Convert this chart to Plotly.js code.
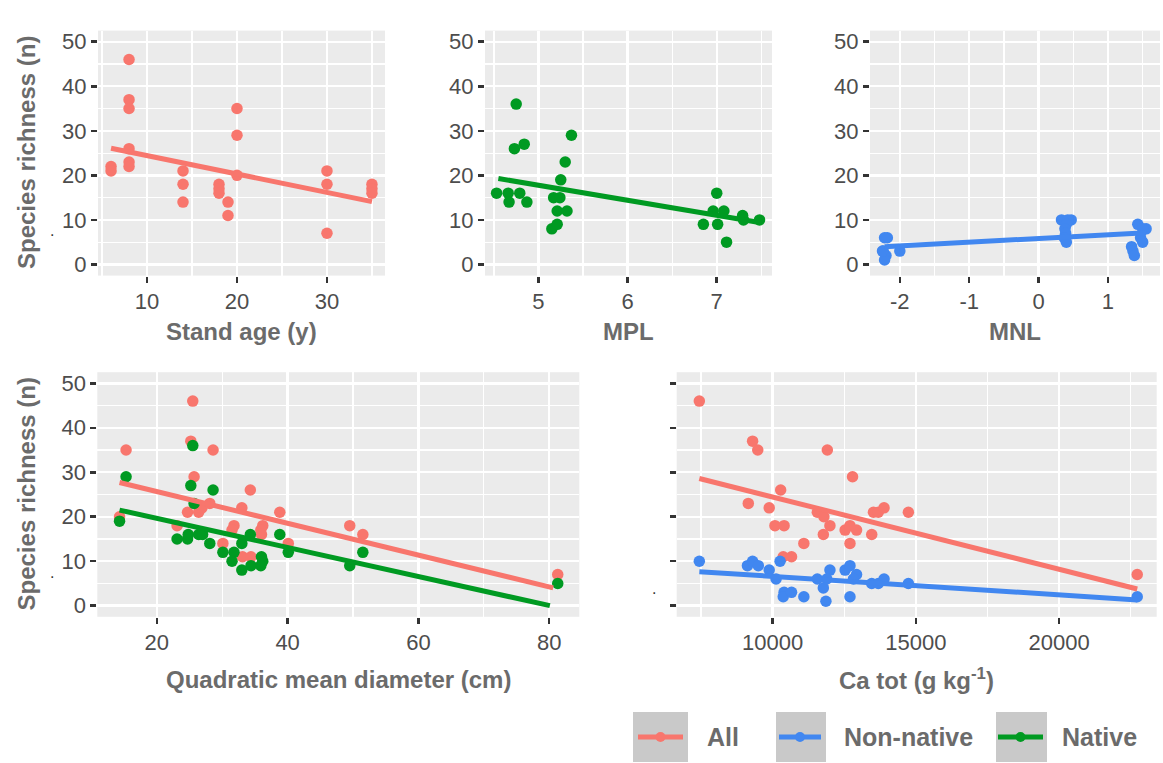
<!DOCTYPE html>
<html>
<head>
<meta charset="utf-8">
<script src="https://cdn.plot.ly/plotly-3.0.1.min.js"></script>
<style>html,body{margin:0;padding:0;background:#fff;}#chart{width:1163px;height:763px;}</style>
</head>
<body>
<div id="chart"></div>
<script>
// ---------------- DATA ----------------
// Panel 1: Stand age (y) vs species richness, All species
const standAge = [6,6,8,8,8,8,8,8,14,14,14,18,18,18,19,19,20,20,20,30,30,30,35,35,35];
const standAgeAll = [22,21,46,37,35,26,23,22,21,18,14,18,17,16,14,11,35,29,20,21,18,7,18,17,16];
const standAgeFitX = [6, 35];
const standAgeFitAll = [26.1, 14.1];

// Panel 2: MPL vs species richness, Native species
const mpl = [4.53,4.66,4.67,4.79,4.87,4.75,4.73,4.84,5.37,5.30,5.25,5.17,5.24,5.21,5.32,5.15,5.21,7.00,6.96,7.08,6.85,7.01,7.11,7.29,7.30,7.48];
const mplNative = [16,16,14,16,14,36,26,27,29,23,19,15,15,12,12,8,9,16,12,12,9,9,5,11,10,10];
const mplFitX = [4.55, 7.48];
const mplFitNative = [19.3, 9.4];

// Panel 3: MNL vs species richness, Non-native species
const mnl = [-2.18,-2.22,-2.24,-2.20,-2.22,-2.00,-2.25,0.33,0.47,0.42,0.40,0.38,0.39,0.37,0.40,1.43,1.55,1.50,1.47,1.50,1.34,1.36,1.38];
const mnlNonNative = [6,6,3,2,1,3,3,10,10,10,9,8,7,6,5,9,8,8,6,5,4,3,2];
const mnlFitX = [-2.22, 1.55];
const mnlFitNonNative = [4.0, 7.1];
const mnlTickVals = [-2,-1,0,1];
const mnlTickText = ['-2','-1','0','1'];

// Panel 4: Quadratic mean diameter (cm)
const qmdAllX = [25.5,15.3,25.2,28.6,25.7,34.3,14.3,24.7,26.4,26.9,28.1,33.0,38.8,23.1,31.8,31.5,36.2,35.9,36.0,30.1,40.1,33.1,34.4,49.5,51.5,81.3];
const qmdAll = [46,35,37,35,29,26,20,21,21,22,23,22,21,18,18,17,18,17,16,14,14,11,11,18,16,7];
const qmdNativeX = [25.5,15.3,25.2,28.6,25.7,14.3,23.1,24.7,24.8,26.4,27.0,28.1,30.1,31.8,33.0,34.3,31.5,33.0,34.4,36.0,36.2,35.9,38.8,40.1,49.5,51.5,81.3];
const qmdNative = [36,29,27,26,23,19,15,15,16,16,16,14,12,12,14,16,10,8,9,11,10,9,16,12,9,12,5];
const qmdFitAllX = [14.3, 80.6];
const qmdFitAll = [27.7, 4.0];
const qmdFitNativeX = [14.3, 80.1];
const qmdFitNative = [21.5, 0.0];

// Panel 5: Ca tot (g kg-1)
const caAllX = [7440,9300,9480,11910,12790,10280,9150,9880,11560,11790,13520,13690,13890,14740,10080,10400,12000,11770,12530,12700,12930,13460,12700,11090,10370,10660,22730];
const caAll = [46,37,35,35,29,26,23,22,21,20,21,21,22,21,18,18,18,16,17,18,17,16,14,14,11,11,7];
const caNonNativeX = [7440,9120,9300,9500,9880,10120,10260,10400,10370,10660,11090,11560,11770,11860,12000,11890,12530,12700,12700,12930,12820,13460,13690,13890,14740,22730];
const caNonNative = [10,9,10,9,8,6,10,3,2,3,2,6,4,1,8,6,8,9,2,7,6,5,5,6,5,2];
const caFitX = [7440, 22730];
const caFitAll = [28.6, 3.75];
const caFitNonNative = [7.65, 1.3];

// Labels
const seriesNames = ['All', 'Non-native', 'Native'];
const xTitles = ['Stand age (y)', 'MPL', 'MNL', 'Quadratic mean diameter (cm)', 'Ca tot (g kg<sup>-1</sup>)'];
const yTitle = 'Species richness (n)';

// ---------------- STYLE ----------------
const COL = {'All':'#F8766D', 'Non-native':'#4187F0', 'Native':'#009A22'};
const W = 1163, H = 763;
const px = x => x / W;
const py = y => 1 - y / H;

function pts(x, y, name, xa, ya) {
  return {type:'scatter', mode:'markers', x:x, y:y, name:name, xaxis:xa, yaxis:ya,
    marker:{color:COL[name], size:11.5, line:{width:0}}, showlegend:false, hoverinfo:'x+y'};
}
function fit(x, y, name, xa, ya) {
  return {type:'scatter', mode:'lines', x:x, y:y, name:name, xaxis:xa, yaxis:ya,
    line:{color:COL[name], width:5}, showlegend:false, hoverinfo:'skip'};
}

const data = [
  pts(standAge, standAgeAll, 'All', 'x', 'y'),
  fit(standAgeFitX, standAgeFitAll, 'All', 'x', 'y'),
  pts(mpl, mplNative, 'Native', 'x2', 'y2'),
  fit(mplFitX, mplFitNative, 'Native', 'x2', 'y2'),
  pts(mnl, mnlNonNative, 'Non-native', 'x3', 'y3'),
  fit(mnlFitX, mnlFitNonNative, 'Non-native', 'x3', 'y3'),
  pts(qmdAllX, qmdAll, 'All', 'x4', 'y4'),
  pts(qmdNativeX, qmdNative, 'Native', 'x4', 'y4'),
  fit(qmdFitAllX, qmdFitAll, 'All', 'x4', 'y4'),
  fit(qmdFitNativeX, qmdFitNative, 'Native', 'x4', 'y4'),
  pts(caAllX, caAll, 'All', 'x5', 'y5'),
  pts(caNonNativeX, caNonNative, 'Non-native', 'x5', 'y5'),
  fit(caFitX, caFitAll, 'All', 'x5', 'y5'),
  fit(caFitX, caFitNonNative, 'Non-native', 'x5', 'y5')
];

const tickFont = {family:'Liberation Sans, Arial, sans-serif', size:22, color:'#4D4D4D'};
const base = {ticks:'outside', ticklen:6, tickwidth:2.5, tickcolor:'#333333',
  showgrid:true, gridcolor:'#FFFFFF', gridwidth:2.4, zeroline:false, showline:false,
  tickfont:tickFont, fixedrange:true};

function xAxis(d0, d1, range, anchor, extra, minorDtick) {
  return Object.assign({}, base, {domain:[px(d0), px(d1)], range:range, anchor:anchor,
    minor:{showgrid:true, gridcolor:'#FFFFFF', gridwidth:1.2, dtick:minorDtick, ticks:''}}, extra);
}
function yAxis(top, bottom, anchor, showLabels) {
  return Object.assign({}, base, {domain:[py(bottom), py(top)], range:[-2.5, 52.5], anchor:anchor,
    tick0:0, dtick:10, showticklabels:showLabels,
    minor:{showgrid:true, gridcolor:'#FFFFFF', gridwidth:1.2, dtick:5, ticks:''}});
}

const TOP = [30.6, 275.6], BOT = [372.2, 616.8];

const layout = {
  width:W, height:H, margin:{l:0, r:0, t:0, b:0},
  paper_bgcolor:'#FFFFFF', plot_bgcolor:'#EBEBEB', showlegend:false,
  font:{family:'Liberation Sans, Arial, sans-serif'},
  xaxis: xAxis(98, 385, [4.55, 36.45], 'y', {tick0:0, dtick:10}, 5),
  xaxis2: xAxis(485, 772, [4.40, 7.62], 'y2', {tick0:0, dtick:1}, 0.5),
  xaxis3: xAxis(870, 1160, [-2.43, 1.75], 'y3', {tickmode:'array', tickvals:mnlTickVals, ticktext:mnlTickText}, 0.5),
  xaxis4: xAxis(97.3, 579.3, [10.9, 84.6], 'y4', {tick0:0, dtick:20}, 10),
  xaxis5: xAxis(676.7, 1156.7, [6650, 23410], 'y5', {tick0:0, dtick:5000, tickformat:'d'}, 2500),
  yaxis: yAxis(TOP[0], TOP[1], 'x', true),
  yaxis2: yAxis(TOP[0], TOP[1], 'x2', true),
  yaxis3: yAxis(TOP[0], TOP[1], 'x3', true),
  yaxis4: yAxis(BOT[0], BOT[1], 'x4', true),
  yaxis5: yAxis(BOT[0], BOT[1], 'x5', false),
  shapes: [],
  annotations: []
};

const titleFont = {family:'Liberation Sans, Arial, sans-serif', size:24, color:'#6B6B6B'};
function ann(text, x, y, opts) {
  return Object.assign({text:text, x:px(x), y:py(y), xref:'paper', yref:'paper', showarrow:false,
    xanchor:'center', yanchor:'middle', font:titleFont}, opts || {});
}
// x-axis titles
layout.annotations.push(ann('<b>' + xTitles[0] + '</b>', 241.5, 331));
layout.annotations.push(ann('<b>' + xTitles[1] + '</b>', 628.5, 331));
layout.annotations.push(ann('<b>' + xTitles[2] + '</b>', 1015, 331));
layout.annotations.push(ann('<b>' + xTitles[3] + '</b>', 338.3, 679));
layout.annotations.push(ann('<b>' + xTitles[4] + '</b>', 916.7, 679));
// y-axis titles
layout.annotations.push(ann('<b>' + yTitle + '</b>', 26, 153, {textangle:-90}));
layout.annotations.push(ann('<b>' + yTitle + '</b>', 26, 494.5, {textangle:-90}));
// small stray dots present in the reference
const dotFont = {family:'Liberation Sans, Arial, sans-serif', size:16, color:'#333333'};
layout.annotations.push(ann('.', 52, 231, {font:dotFont}));
layout.annotations.push(ann('.', 52, 572, {font:dotFont}));
layout.annotations.push(ann('.', 653.5, 588, {font:dotFont}));

// Legend (drawn with shapes + text)
const legendKeys = [
  {name:seriesNames[0], box:[633, 688], line:[638, 683], text:705},
  {name:seriesNames[1], box:[776, 826], line:[779, 821], text:842},
  {name:seriesNames[2], box:[996, 1047], line:[998, 1043], text:1060}
];
legendKeys.forEach(k => {
  layout.shapes.push({type:'rect', xref:'paper', yref:'paper', x0:px(k.box[0]), x1:px(k.box[1]),
    y0:py(762), y1:py(712), fillcolor:'#C9C9C9', line:{width:0}, layer:'above'});
  layout.shapes.push({type:'line', xref:'paper', yref:'paper', x0:px(k.line[0]), x1:px(k.line[1]),
    y0:py(737), y1:py(737), line:{color:COL[k.name], width:5}, layer:'above'});
  const cx = (k.line[0] + k.line[1]) / 2;
  layout.shapes.push({type:'circle', xref:'paper', yref:'paper', x0:px(cx - 5), x1:px(cx + 5),
    y0:py(742), y1:py(732), fillcolor:COL[k.name], line:{width:0}, layer:'above'});
  layout.annotations.push(ann('<b>' + k.name + '</b>', k.text, 737,
    {xanchor:'left', font:{family:'Liberation Sans, Arial, sans-serif', size:25, color:'#6B6B6B'}}));
});

Plotly.newPlot('chart', data, layout, {displayModeBar:false, staticPlot:true});
</script>
</body>
</html>
